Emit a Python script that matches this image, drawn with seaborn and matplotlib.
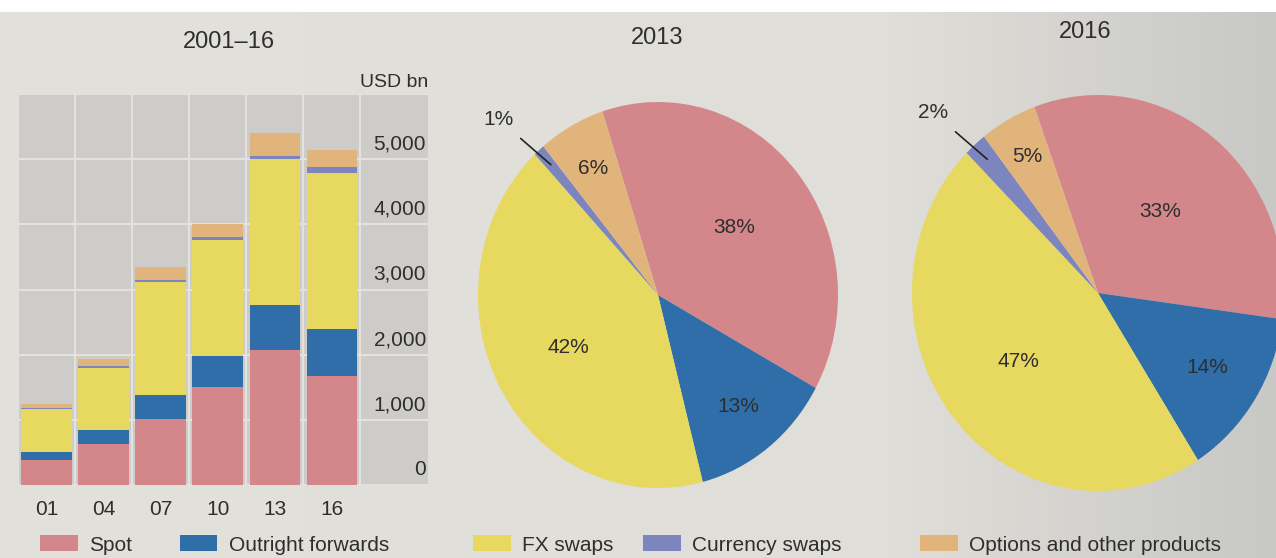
import numpy as np
import pandas as pd
import matplotlib
matplotlib.use("Agg")
import matplotlib.pyplot as plt
import matplotlib.transforms as mtransforms
from matplotlib.patches import Patch, Rectangle
from matplotlib import font_manager
import seaborn as sns

# ---- data -------------------------------------------------------------
years = ["01", "04", "07", "10", "13", "16"]
instruments = ["Spot", "Outright forwards", "FX swaps", "Currency swaps",
               "Options and other products"]

# daily turnover by instrument, USD bn
spot = [380, 630, 1010, 1500, 2070, 1680]
outright_forwards = [130, 210, 370, 480, 690, 720]
fx_swaps = [660, 960, 1730, 1780, 2240, 2390]
currency_swaps = [10, 20, 30, 40, 50, 90]
options_other = [60, 120, 210, 210, 350, 260]

ytick_values = [0, 1000, 2000, 3000, 4000, 5000]
ytick_labels = ["0", "1,000", "2,000", "3,000", "4,000", "5,000"]

# instrument shares, per cent
share_2013 = [38, 13, 42, 1, 6]
share_2016 = [33, 14, 47, 2, 5]

bar_title = "2001–16"
pie_titles = ["2013", "2016"]
unit_label = "USD bn"

# ---- style ------------------------------------------------------------
colors = ["#d4878b", "#2f6ea8", "#e7d85f", "#7c85bd", "#e1b47c"]
panel_bg = "#cdccc8"
grid_col = "#e4e3df"
text_col = "#2e2e2e"

avail = {f.name for f in font_manager.fontManager.ttflist}
narrow = "Liberation Sans Narrow" if "Liberation Sans Narrow" in avail else "Liberation Sans"
regular = "Liberation Sans"

sns.set_style("white")
plt.rcParams["font.family"] = [regular, "DejaVu Sans"]

W, H = 1276, 558
fig = plt.figure(figsize=(W / 100, H / 100), dpi=100)


def px_rect(left, top, right, bottom):
    return [left / W, 1 - bottom / H, (right - left) / W, (bottom - top) / H]


# page background with soft lighting falloff towards the right
bg = fig.add_axes([0, 0, 1, 1], zorder=-10)
xs = np.linspace(0, 1, 400)
stops = [0.0, 0.7, 1.0]
grad = np.stack([np.interp(xs, stops, [227, 224, 200]),
                 np.interp(xs, stops, [225, 222, 200]),
                 np.interp(xs, stops, [219, 216, 198])], axis=-1) / 255
bg.imshow(grad[None, :, :], aspect="auto", extent=[0, 1, 0, 1])
bg.add_patch(Rectangle((0, 1 - 12 / H), 1, 12 / H, color="white", lw=0))
bg.set_xlim(0, 1)
bg.set_ylim(0, 1)
bg.axis("off")

# ---- stacked bars -----------------------------------------------------
axb = fig.add_axes(px_rect(18, 94, 428, 485))
layers = np.array([spot, outright_forwards, fx_swaps, currency_swaps, options_other])
cum = np.cumsum(layers, axis=0)
df = pd.DataFrame({"year": years})
for i, name in enumerate(instruments):
    df[name] = cum[i]

for i in reversed(range(len(instruments))):
    sns.barplot(data=df, x="year", y=instruments[i], order=years,
                color=colors[i], saturation=1, width=0.88, linewidth=0,
                errorbar=None, ax=axb, zorder=3)

axb.set_facecolor(panel_bg)
axb.set_axisbelow(True)
axb.set_xlim(-0.5, 6.69)
axb.set_ylim(0, 6000)
axb.set_xlabel("")
axb.set_ylabel("")
for s in axb.spines.values():
    s.set_visible(False)

axb.set_yticks(range(0, 6001, 1000))
axb.yaxis.grid(True, color=grid_col, lw=1.4)
axb.tick_params(axis="y", length=0, labelleft=False)

axb.set_xticks(range(len(years)))
axb.set_xticklabels(years)
axb.set_xticks(np.arange(-0.5, len(years), 1.0), minor=True)
axb.xaxis.grid(False, which="major")
axb.xaxis.grid(True, which="minor", color=grid_col, lw=1.4)
axb.tick_params(axis="x", which="major", length=0, pad=11, labelsize=15,
                labelcolor=text_col)
for lab in axb.get_xticklabels():
    lab.set_family(narrow)
axb.tick_params(axis="x", which="minor", direction="in", length=11,
                width=1.4, color="#3a3a3a", zorder=5)

blend = mtransforms.blended_transform_factory(axb.transAxes, axb.transData)
for v, lab in zip(ytick_values, ytick_labels):
    axb.annotate(lab, xy=(1, v), xycoords=blend, xytext=(-1.5, 4),
                 textcoords="offset points", ha="right", va="bottom",
                 fontsize=15, color=text_col, family=regular)
axb.annotate(unit_label, xy=(1, 1), xycoords="axes fraction", xytext=(0, 2),
             textcoords="offset points", ha="right", va="bottom",
             fontsize=14, color=text_col, family=narrow)

# ---- pies -------------------------------------------------------------
pie_specs = [
    (share_2013, px_rect(478, 102, 838, 488), 108, [0.55, 0.73, 0.57, None, 0.75]),
    (share_2016, px_rect(912, 95, 1284, 491), 110, [0.53, 0.70, 0.55, None, 0.79]),
]
for shares, rect, start, label_r in pie_specs:
    ax = fig.add_axes(rect)
    wedges, _ = ax.pie(shares, colors=colors, startangle=start,
                       counterclock=False, wedgeprops=dict(linewidth=0))
    ax.set_aspect("auto")
    ax.set_xlim(-1, 1)
    ax.set_ylim(-1, 1)
    for i, (w, val) in enumerate(zip(wedges, shares)):
        mid = np.deg2rad((w.theta1 + w.theta2) / 2)
        if label_r[i] is not None:
            r = label_r[i]
            ax.text(r * np.cos(mid), r * np.sin(mid), f"{val}%", ha="center",
                    va="center", fontsize=15, color=text_col, family=regular)
        else:
            ta = mid + np.deg2rad(2.8)
            ax.annotate(f"{val}%", xy=(0.9 * np.cos(mid), 0.9 * np.sin(mid)),
                        xytext=(1.27 * np.cos(ta), 1.27 * np.sin(ta)),
                        ha="center", va="center", fontsize=15, color=text_col,
                        family=regular, annotation_clip=False,
                        arrowprops=dict(arrowstyle="-", color="#222222",
                                        lw=1.2, shrinkA=7, shrinkB=0))

# ---- titles -----------------------------------------------------------
fig.text(229 / W, 1 - 42 / H, bar_title, ha="center", va="center",
         fontsize=17, color=text_col, family=narrow)
fig.text(657 / W, 1 - 38 / H, pie_titles[0], ha="center", va="center",
         fontsize=17, color=text_col, family=narrow)
fig.text(1085 / W, 1 - 32 / H, pie_titles[1], ha="center", va="center",
         fontsize=17, color=text_col, family=narrow)

# ---- legend -----------------------------------------------------------
legend_x = [40, 180, 473, 643, 920]
for name, col, x in zip(instruments, colors, legend_x):
    fig.legend(handles=[Patch(facecolor=col, edgecolor="none", label=name)],
               loc="center left", bbox_to_anchor=(x / W, 1 - 545 / H),
               frameon=False, borderpad=0, borderaxespad=0,
               handlelength=1.8, handleheight=0.8, handletextpad=0.55,
               prop=dict(family=narrow, size=15), labelcolor=text_col)

fig.savefig("out.png", dpi=100, facecolor=fig.get_facecolor())
